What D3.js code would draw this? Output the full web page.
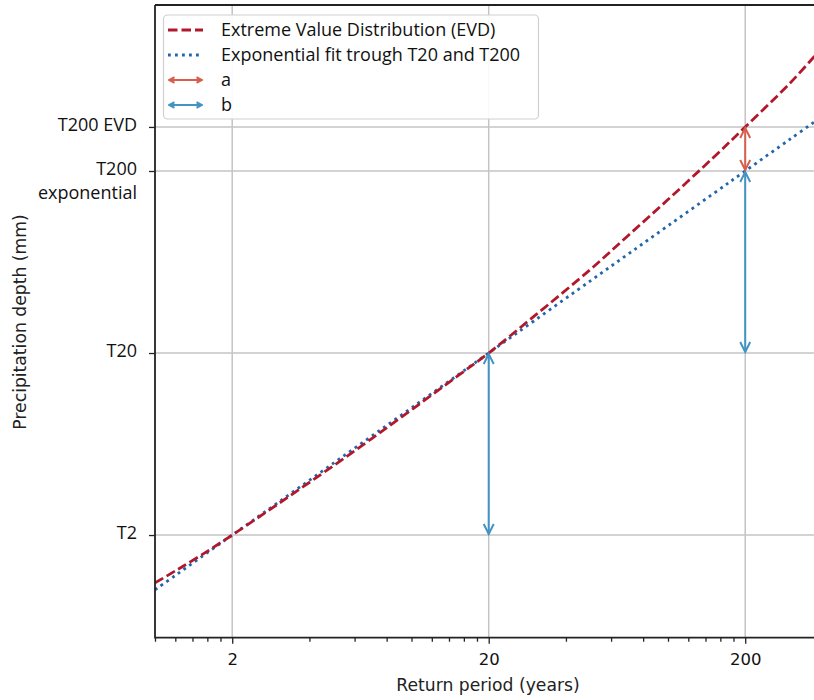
<!DOCTYPE html>
<html>
<head>
<meta charset="UTF-8">
<script src="https://d3js.org/d3.v7.min.js"></script>
<style>
  body { margin: 0; background: #fff; }
  svg { display: block; }
</style>
</head>
<body>
<script>
  // data (depth in mm, return period in years)
  var returnPeriods = [1, 1.2, 1.5, 2, 3, 5, 7, 10, 15, 20, 30, 50, 70, 100, 150, 200, 300, 400];
  var evdDepth = [17.37, 18.03, 18.86, 20, 21.68, 23.84, 25.30, 26.88, 28.70, 30, 32.01, 34.61, 36.46, 38.43, 40.73, 42.42, 44.85, 46.80];
  var expDepth = [16.99, 17.78, 18.75, 20, 21.76, 23.98, 25.44, 26.99, 28.75, 30, 31.76, 33.98, 35.44, 36.99, 38.75, 40, 41.76, 43.01];

  var xMajorTicks = [2, 20, 200];
  var xMinorTicks = [1, 1.2, 1.4, 1.6, 1.8, 4, 6, 8, 10, 12, 14, 16, 18, 40, 60, 80, 100, 120, 140, 160, 180];
  var yTickValues = [20, 30, 40, 42.42];
  var yTickLabels = [["T2"], ["T20"], ["T200", "exponential"], ["T200 EVD"]];

  // arrows: a = EVD minus exponential at T200, b = one decade steps of the fit
  var arrowsA = [{t: 200, from: 40, to: 42.42}];
  var arrowsB = [{t: 200, from: 30, to: 40}, {t: 20, from: 20, to: 30}];

  var legendLabels = ["Extreme Value Distribution (EVD)", "Exponential fit trough T20 and T200", "a", "b"];

  var width = 814, height = 700;
  var plotLeft = 155, plotTop = 5, plotBottom = 637.7;
  var decade = 256.5;

  var svg = d3.select('body').append('svg').attr('width', width).attr('height', height);

  var x = d3.scaleLog().domain([1, 400]).range([plotLeft, plotLeft + decade * Math.log10(400)]);
  var y = d3.scaleLinear().domain([14.36, 49.12]).range([plotBottom, plotTop]);

  var redLine = '#b2182b', blueLine = '#2166ac', redArrow = '#d6604d', blueArrow = '#4393c3';
  var tickFont = 'DejaVu Sans, sans-serif', labelFont = '"Open Sans", sans-serif';

  var defs = svg.append('defs');
  defs.append('clipPath').attr('id', 'clip').append('rect')
    .attr('x', plotLeft).attr('y', plotTop).attr('width', width - plotLeft).attr('height', plotBottom - plotTop);
  function marker(id, color, s) {
    var m = defs.append('marker').attr('id', id)
      .attr('viewBox', '-12 -8 14 16').attr('refX', 0).attr('refY', 0)
      .attr('markerWidth', 14 * s).attr('markerHeight', 16 * s).attr('markerUnits', 'userSpaceOnUse')
      .attr('orient', 'auto-start-reverse');
    m.append('path').attr('d', 'M-10,-5L0,0L-10,5').attr('fill', 'none')
      .attr('stroke', color).attr('stroke-width', 2 / s).attr('stroke-linejoin', 'miter');
  }
  marker('headA', redArrow, 1);
  marker('headB', blueArrow, 1);
  marker('legA', redArrow, 0.55);
  marker('legB', blueArrow, 0.55);

  // grid
  var grid = svg.append('g');
  grid.selectAll('.vg').data(xMajorTicks).join('line')
    .attr('x1', function(d) { return x(d) }).attr('x2', function(d) { return x(d) })
    .attr('y1', plotTop).attr('y2', plotBottom)
    .attr('stroke', '#c4c4c4').attr('stroke-width', 1.5);
  grid.selectAll('.hg').data(yTickValues).join('line')
    .attr('x1', plotLeft).attr('x2', width)
    .attr('y1', function(d) { return y(d) }).attr('y2', function(d) { return y(d) })
    .attr('stroke', '#c4c4c4').attr('stroke-width', 1.5);

  // curves
  var plot = svg.append('g').attr('clip-path', 'url(#clip)');
  var line = d3.line()
    .x(function(d) { return x(d[0]) })
    .y(function(d) { return y(d[1]) })
    .curve(d3.curveCatmullRom);

  plot.append('path').datum(d3.zip(returnPeriods, expDepth))
    .attr('d', line).attr('fill', 'none')
    .attr('stroke', blueLine).attr('stroke-width', 2.8).attr('stroke-dasharray', '2.8,4.2');
  plot.append('path').datum(d3.zip(returnPeriods, evdDepth))
    .attr('d', line).attr('fill', 'none')
    .attr('stroke', redLine).attr('stroke-width', 2.8).attr('stroke-dasharray', '9.5,4');

  // arrows
  plot.selectAll('.arrB').data(arrowsB).join('line')
    .attr('x1', function(d) { return x(d.t) }).attr('x2', function(d) { return x(d.t) })
    .attr('y1', function(d) { return y(d.from) - 1 }).attr('y2', function(d) { return y(d.to) + 1 })
    .attr('stroke', blueArrow).attr('stroke-width', 2)
    .attr('marker-start', 'url(#headB)').attr('marker-end', 'url(#headB)');
  plot.selectAll('.arrA').data(arrowsA).join('line')
    .attr('x1', function(d) { return x(d.t) }).attr('x2', function(d) { return x(d.t) })
    .attr('y1', function(d) { return y(d.from) - 1 }).attr('y2', function(d) { return y(d.to) + 1 })
    .attr('stroke', redArrow).attr('stroke-width', 2)
    .attr('marker-start', 'url(#headA)').attr('marker-end', 'url(#headA)');

  // x axis
  var xAxis = svg.append('g').attr('transform', 'translate(0,' + plotBottom + ')')
    .call(d3.axisBottom(x).tickValues(xMinorTicks).tickSize(4).tickFormat(''));
  var xMajor = svg.append('g').attr('transform', 'translate(0,' + plotBottom + ')')
    .call(d3.axisBottom(x).tickValues(xMajorTicks).tickSize(6).tickPadding(10).tickFormat(d3.format('d')));
  xAxis.select('.domain').remove();
  xMajor.select('.domain').remove();
  svg.selectAll('.tick line').attr('stroke', '#222').attr('stroke-width', 1.3);
  xMajor.selectAll('text').attr('font-family', tickFont).attr('font-size', 16.5).attr('fill', '#111');

  // y axis
  var yAxis = svg.append('g').attr('transform', 'translate(' + plotLeft + ',0)')
    .call(d3.axisLeft(y).tickValues(yTickValues).tickSize(6).tickFormat(''));
  yAxis.select('.domain').remove();
  yAxis.selectAll('.tick line').attr('stroke', '#222').attr('stroke-width', 1.3);
  yAxis.selectAll('.tick').each(function(d, i) {
    var t = d3.select(this).append('text')
      .attr('x', -18).attr('text-anchor', 'end')
      .attr('font-family', labelFont).attr('font-size', 18).attr('fill', '#111');
    yTickLabels[i].forEach(function(s, j) {
      t.append('tspan').attr('x', -18).attr('y', j === 0 ? -3 : 21).attr('dy', '0.35em').text(s);
    });
  });

  // spines
  svg.append('path')
    .attr('d', 'M' + plotLeft + ',' + plotTop + 'H' + width + 'M' + plotLeft + ',' + plotTop + 'V' + plotBottom + 'H' + width)
    .attr('fill', 'none').attr('stroke', '#222').attr('stroke-width', 1.8);

  // axis titles
  svg.append('text').attr('x', 488).attr('y', 691).attr('text-anchor', 'middle')
    .attr('font-family', tickFont).attr('font-size', 17.2).attr('fill', '#222')
    .text('Return period (years)');
  svg.append('text').attr('transform', 'translate(26,322) rotate(-90)').attr('text-anchor', 'middle')
    .attr('font-family', tickFont).attr('font-size', 17.2).attr('fill', '#222')
    .text('Precipitation depth (mm)');

  // legend
  var lg = svg.append('g');
  lg.append('rect').attr('x', 163.5).attr('y', 15).attr('width', 375).attr('height', 104).attr('rx', 4)
    .attr('fill', '#fff').attr('fill-opacity', 0.9).attr('stroke', '#d0d0d0').attr('stroke-width', 1.2);
  var rows = lg.selectAll('.row').data(legendLabels).join('g')
    .attr('transform', function(d, i) { return 'translate(0,' + (30 + i * 25) + ')' });
  rows.append('text').attr('x', 221).attr('dy', '0.35em')
    .attr('font-family', labelFont).attr('font-size', 18).attr('fill', '#111')
    .text(function(d) { return d });
  rows.filter(function(d, i) { return i === 0 }).append('line')
    .attr('x1', 168).attr('x2', 203).attr('stroke', redLine).attr('stroke-width', 2.8).attr('stroke-dasharray', '9.5,4');
  rows.filter(function(d, i) { return i === 1 }).append('line')
    .attr('x1', 168).attr('x2', 203).attr('stroke', blueLine).attr('stroke-width', 2.8).attr('stroke-dasharray', '2.8,4.2');
  rows.filter(function(d, i) { return i === 2 }).append('line')
    .attr('x1', 169).attr('x2', 202).attr('stroke', redArrow).attr('stroke-width', 2)
    .attr('marker-start', 'url(#legA)').attr('marker-end', 'url(#legA)');
  rows.filter(function(d, i) { return i === 3 }).append('line')
    .attr('x1', 169).attr('x2', 202).attr('stroke', blueArrow).attr('stroke-width', 2)
    .attr('marker-start', 'url(#legB)').attr('marker-end', 'url(#legB)');
</script>
</body>
</html>
